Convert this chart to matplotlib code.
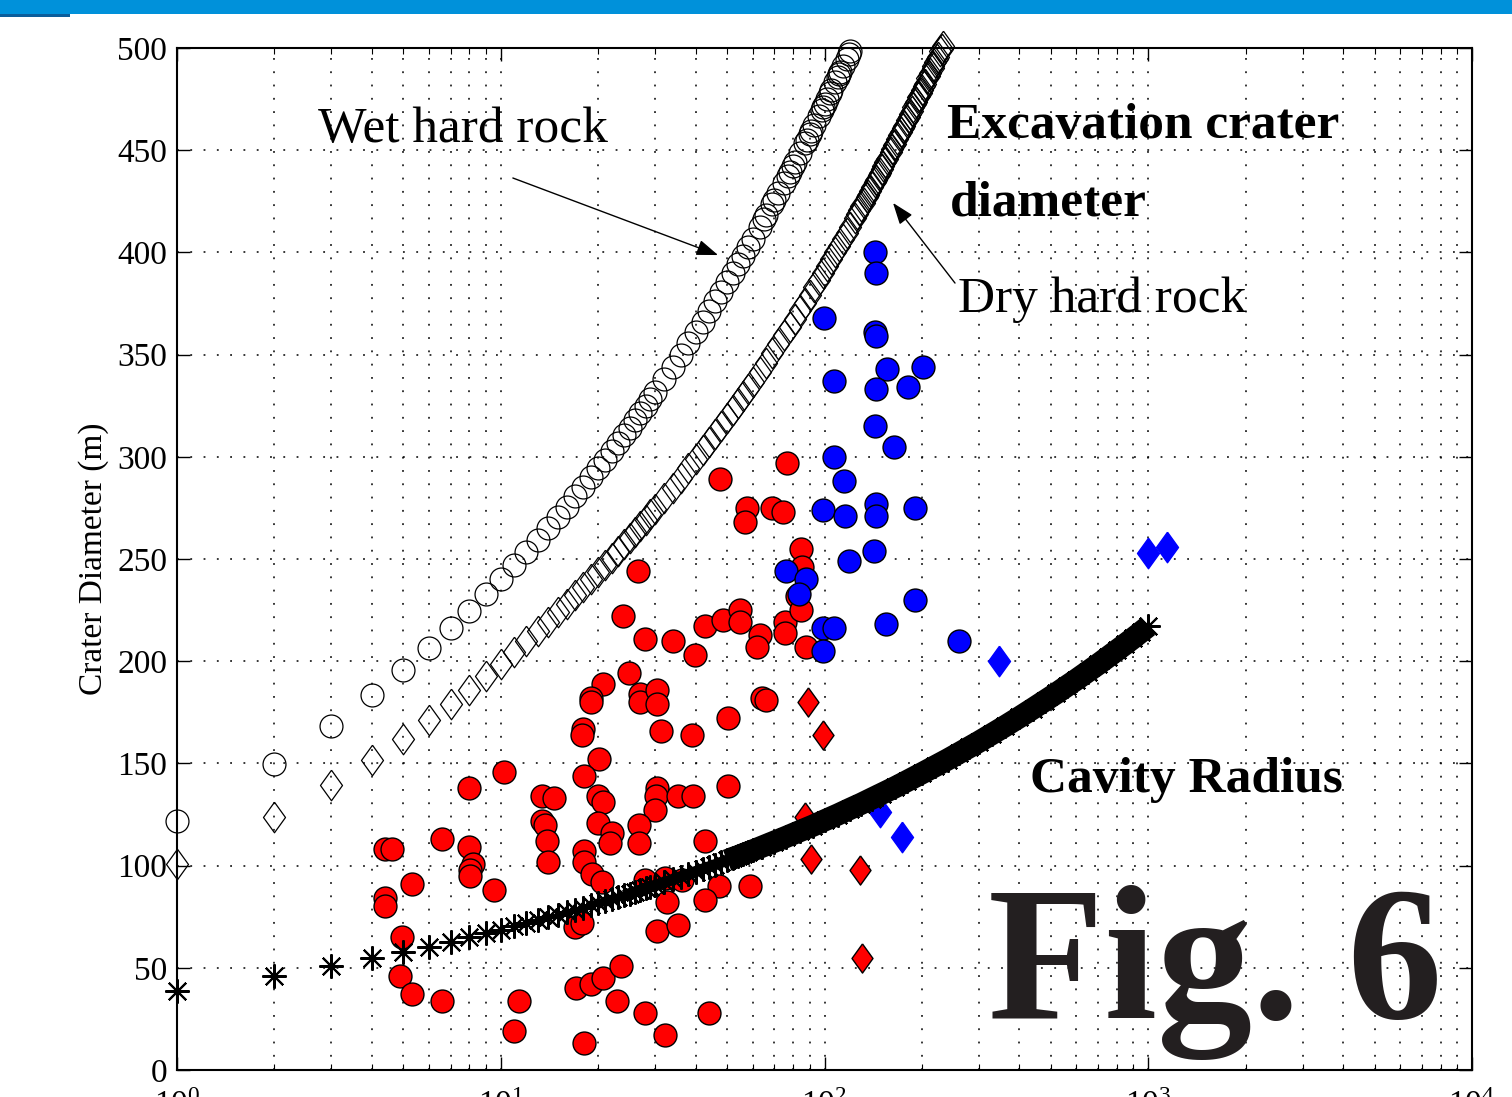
import matplotlib
matplotlib.use('Agg')
import matplotlib.pyplot as plt
from matplotlib.patches import Rectangle
from matplotlib.ticker import NullFormatter

# --- data ---
# wet hard rock excavation diameter (open circles)
wet_x = [1, 2, 3, 4, 5, 6, 7, 8, 9, 10, 11, 12, 13, 14, 15, 16, 17, 18, 19, 20,
         21, 22, 23, 24, 25, 26, 27, 28, 29, 30, 32, 34, 36, 38, 40, 42, 44, 46, 48, 50,
         52, 54, 56, 58, 60, 63, 65, 66, 69, 70, 72, 75, 77, 78, 80, 81, 84, 87, 88, 90,
         91, 93, 96, 98, 99, 100, 102, 104, 105, 108, 110, 111, 112, 114, 117, 119, 120]
wet_y = [122.0, 149.6, 168.5, 183.4, 195.8, 206.6, 216.2, 224.8, 232.7, 240.1,
         246.9, 253.3, 259.3, 265.0, 270.5, 275.6, 280.6, 285.3, 289.9, 294.3,
         298.6, 302.7, 306.7, 310.5, 314.3, 317.9, 321.5, 324.9, 328.3, 331.6,
         337.9, 344.0, 349.8, 355.5, 360.9, 366.1, 371.1, 376.0, 380.7, 385.4,
         389.8, 394.1, 398.4, 402.5, 406.6, 412.4, 416.3, 418.1, 423.6, 425.4,
         428.9, 434.1, 437.5, 439.2, 442.4, 444.0, 448.8, 453.5, 455.0, 458.0,
         459.5, 462.5, 466.7, 469.7, 471.0, 472.5, 475.2, 477.9, 479.3, 483.2,
         485.9, 487.2, 488.4, 491.0, 494.7, 497.3, 498.4]

# dry hard rock excavation diameter (open diamonds)
dry_x = [1, 2, 3, 4, 5, 6, 7, 8, 9, 10, 11, 12, 13, 14, 15, 16, 17, 18, 19, 20,
         21, 22, 23, 24, 25, 26, 27, 28, 29, 30, 32, 34, 36, 38, 40, 42, 44, 46, 48, 50,
         52, 54, 56, 58, 60, 63, 66, 69, 72, 75, 78, 81, 84, 87, 90, 93, 96, 99, 102, 105,
         108, 111, 114, 117, 120, 124, 126, 128, 130, 132, 135, 136, 138, 140, 143, 144,
         147, 148, 150, 152, 154, 156, 160, 162, 164, 165, 168, 170, 172, 175, 176, 180,
         182, 184, 186, 188, 190, 192, 195, 196, 198, 200, 203, 204, 208, 210, 212, 216,
         217, 220, 222, 224, 228, 230, 232]
dry_y = [101.0, 123.8, 139.5, 151.8, 162.1, 171.0, 179.0, 186.1, 192.7, 198.8,
         204.4, 209.7, 214.7, 219.4, 223.9, 228.2, 232.3, 236.2, 240.0, 243.7,
         247.2, 250.6, 253.9, 257.1, 260.2, 263.2, 266.1, 269.0, 271.8, 274.5,
         279.8, 284.8, 289.6, 294.3, 298.8, 303.1, 307.2, 311.3, 315.2, 319.0,
         322.7, 326.3, 329.8, 333.2, 336.6, 341.4, 346.1, 350.7, 355.1, 359.4,
         363.6, 367.6, 371.6, 375.4, 379.2, 382.9, 386.4, 389.9, 393.4, 396.8,
         400.0, 403.3, 406.5, 409.6, 412.6, 416.6, 418.6, 420.5, 422.5, 424.4,
         427.2, 428.1, 430.0, 431.8, 434.5, 435.3, 438.0, 438.9, 440.6, 442.3,
         444.1, 445.7, 449.1, 450.6, 452.3, 453.2, 455.5, 457.2, 458.7, 461.1,
         461.8, 464.9, 466.4, 467.9, 469.4, 470.9, 472.4, 473.7, 476.0, 476.7,
         478.1, 479.5, 481.6, 482.3, 485.1, 486.5, 487.8, 490.4, 491.2, 493.1,
         494.5, 495.7, 498.3, 499.7, 500.9]

# cavity radius (asterisks)
cav_x = [1, 2, 3, 4, 5, 6, 7, 8, 9, 10, 11, 12, 13, 14, 15, 16, 17, 18, 19, 20,
         21, 22, 23, 24, 25, 26, 27, 28, 29, 30, 32, 34, 36, 38, 40, 42, 44, 46, 48, 50,
         52, 54, 56, 58, 60, 64, 70, 76, 84, 92, 100, 110, 120, 130, 140, 150, 165, 180,
         200, 220, 240, 260, 280, 300, 330, 360, 400, 440, 480, 520, 560, 600, 650, 700,
         750, 800, 850, 900, 950, 1000]
cav_y = [38.6, 45.9, 50.8, 54.6, 57.7, 60.4, 62.8, 64.9, 66.9, 68.6,
         70.3, 71.8, 73.3, 74.7, 76.0, 77.2, 78.4, 79.5, 80.6, 81.6,
         82.6, 83.6, 84.5, 85.4, 86.3, 87.2, 88.0, 88.8, 89.6, 90.3,
         91.8, 93.2, 94.6, 95.8, 97.1, 98.3, 99.4, 100.5, 101.6, 102.6,
         103.7, 104.6, 105.6, 106.5, 107.4, 109.2, 111.7, 114.0, 116.9, 119.5,
         122.1, 125.0, 127.8, 130.3, 132.8, 135.1, 138.3, 141.4, 145.2, 148.7,
         151.9, 155.0, 157.9, 160.6, 164.5, 168.1, 172.6, 176.8, 180.7, 184.3,
         187.8, 191.0, 194.9, 198.5, 202.0, 205.3, 208.4, 211.4, 214.3, 217.1]

# measured craters, red circles
red_x = [4.39, 4.61, 4.39, 4.39, 5.32, 4.95, 4.88, 5.32, 6.58, 6.58,
         7.98, 7.98, 8.21, 8.04, 8.04, 9.53, 10.2, 11.4, 11.0, 13.4,
         14.6, 13.4, 13.7, 13.9, 14.0, 18.1, 17.1, 19.0, 20.7, 22.9,
         17.0, 17.8, 20.7, 19.0, 19.0, 18.0, 17.8, 20.1, 18.1, 20.0,
         20.7, 20.0, 22.1, 21.8, 18.1, 18.1, 19.1, 20.6, 23.9, 27.9,
         34.0, 39.8, 24.9, 26.9, 26.9, 30.4, 30.4, 31.3, 39.0, 42.7,
         48.6, 54.8, 54.8, 63.2, 61.9, 75.5, 75.5, 87.7, 64.1, 66.0,
         50.3, 30.4, 30.2, 30.0, 35.3, 39.3, 50.3, 26.7, 26.7, 42.7,
         27.9, 32.2, 36.3, 47.2, 58.9, 32.6, 42.7, 30.4, 35.3, 23.5,
         27.9, 44.0, 32.2, 26.5, 47.6, 76.6, 57.6, 56.8, 68.8, 74.4,
         84.6, 85.2, 82.2, 84.6]
red_y = [108, 108, 84, 80, 91, 65, 46, 37, 34, 113,
         138, 109, 101, 98, 95, 88, 146, 34, 19, 134,
         133, 122, 120, 112, 102, 13, 40, 42, 45, 34,
         70, 72, 189, 182, 180, 167, 164, 152, 144, 134,
         131, 121, 116, 111, 107, 102, 96, 92, 222, 211,
         210, 203, 194, 184, 180, 186, 179, 166, 164, 217,
         220, 225, 219, 213, 207, 219, 214, 207, 182, 181,
         172, 138, 134, 127, 134, 134, 139, 120, 111, 112,
         93, 94, 93, 90, 90, 82, 83, 68, 71, 51,
         28, 28, 17, 244, 289, 297, 275, 268, 275, 273,
         255, 246, 232, 225]

# red diamonds
red_d_x = [88.9, 98.9, 87.1, 90.9, 128.7, 130.6]
red_d_y = [180, 164, 124, 103, 98, 55]

# blue circles
blue_x = [143.2, 144.2, 99.7, 143.2, 144.2, 156.0, 201.5, 107.0, 144.2, 181.1,
          143.2, 163.9, 107.0, 114.9, 98.9, 115.7, 144.2, 144.2, 190.4, 142.2,
          119.0, 76.1, 87.7, 83.4, 190.4, 154.9, 98.9, 107.0, 98.9, 260.3]
blue_y = [400, 390, 368, 361, 359, 343, 344, 337, 333, 334,
          315, 305, 300, 288, 274, 271, 277, 271, 275, 254,
          249, 244, 240, 233, 230, 218, 216, 216, 205, 210]

# blue diamonds
blue_d_x = [148.4, 173.5, 345.9, 998, 1143]
blue_d_y = [126, 114, 200, 253, 256]

x_ticks = [1, 10, 100, 1000, 10000]
x_tick_labels = [r'$10^{0}$', r'$10^{1}$', r'$10^{2}$', r'$10^{3}$', r'$10^{4}$']
y_ticks = [0, 50, 100, 150, 200, 250, 300, 350, 400, 450, 500]


def plot_craters():
    plt.rcParams['font.family'] = ['Liberation Serif', 'DejaVu Serif']
    plt.rcParams['mathtext.fontset'] = 'custom'
    plt.rcParams['mathtext.rm'] = 'Liberation Serif'
    plt.rcParams['mathtext.it'] = 'Liberation Serif:italic'
    plt.rcParams['mathtext.bf'] = 'Liberation Serif:bold'

    diamond = [(0, 1), (0.72, 0), (0, -1), (-0.72, 0), (0, 1)]

    fig = plt.figure(figsize=(15.12, 10.97), dpi=100)
    ax = fig.add_axes([177 / 1512, 27 / 1097, 1295 / 1512, 1022 / 1097])

    # header bar
    fig.add_artist(Rectangle((0, 1 - 14 / 1097), 1, 14 / 1097, transform=fig.transFigure,
                             color='#0091da', lw=0))
    fig.add_artist(Rectangle((0, 1 - 17 / 1097), 70 / 1512, 3 / 1097, transform=fig.transFigure,
                             color='#0b5d9b', lw=0))

    ax.plot(wet_x, wet_y, ls='none', marker='o', ms=16.5, mfc='none', mec='k', mew=0.9,
            clip_on=False, zorder=3)
    ax.plot(dry_x, dry_y, ls='none', marker=diamond, ms=22, mfc='none', mec='k', mew=0.9,
            clip_on=False, zorder=3)
    ax.plot(red_x, red_y, ls='none', marker='o', ms=16.5, mfc='r', mec='k', mew=1.0, zorder=4)
    ax.plot(red_d_x, red_d_y, ls='none', marker=diamond, ms=21, mfc='r', mec='k', mew=1.0, zorder=4)
    ax.plot(blue_x, blue_y, ls='none', marker='o', ms=16.5, mfc='b', mec='k', mew=1.0, zorder=5)
    ax.plot(blue_d_x, blue_d_y, ls='none', marker=diamond, ms=22, mfc='b', mec='b', mew=1.0,
            zorder=5)

    # cavity radius: asterisks merge into a solid band at larger yields
    core_x = [x for x in cav_x if x >= 24]
    core_y = [y for x, y in zip(cav_x, cav_y) if x >= 24]
    ax.plot(core_x, core_y, color='k', lw=8, solid_capstyle='butt', zorder=6)
    band_x = [x for x in cav_x if x >= 50]
    band_y = [y for x, y in zip(cav_x, cav_y) if x >= 50]
    ax.plot(band_x, band_y, color='k', lw=16, solid_capstyle='butt', zorder=6)
    ax.plot(cav_x, cav_y, ls='none', marker=(8, 2, 0), ms=17.5, color='k', mew=1.5,
            clip_on=False, zorder=6)

    ax.set_xscale('log')
    ax.set_xlim(1, 10000)
    ax.set_ylim(0, 500)
    ax.set_xticks(x_ticks)
    ax.set_xticklabels(x_tick_labels)
    ax.xaxis.set_minor_formatter(NullFormatter())
    ax.set_yticks(y_ticks)

    ax.tick_params(which='major', direction='in', length=9.5, width=1.0, top=True, right=True,
                   labelsize=24)
    ax.tick_params(which='minor', direction='in', length=4.5, width=0.8, top=True, right=True)
    ax.tick_params(axis='x', which='major', pad=15)
    ax.tick_params(axis='y', which='major', pad=7)
    for s in ax.spines.values():
        s.set_linewidth(1.5)

    ax.set_axisbelow(True)
    ax.grid(which='major', color='k', lw=1.1, ls=(0, (1.2, 7.5)))
    ax.grid(which='minor', axis='x', color='k', lw=1.1, ls=(0, (1.2, 7.5)))

    ax.set_ylabel('Crater Diameter (m)', fontsize=24)
    ax.yaxis.set_label_coords(-0.0525, 0.5)

    # labels and arrows
    ax.annotate('', xy=(46.9, 398.7), xytext=(10.9, 436.4),
                arrowprops=dict(arrowstyle='-|>,head_length=0.6,head_width=0.22', color='k',
                                lw=1.0, mutation_scale=22, shrinkA=0, shrinkB=0))
    ax.annotate('', xy=(162.8, 424.2), xytext=(253.0, 385.0),
                arrowprops=dict(arrowstyle='-|>,head_length=0.6,head_width=0.22', color='k',
                                lw=1.0, mutation_scale=22, shrinkA=0, shrinkB=0))

    fig.text(318 / 1512, 1 - 142 / 1097, 'Wet hard rock', fontsize=37, va='baseline')
    fig.text(947 / 1512, 1 - 138 / 1097, 'Excavation crater', fontsize=37, fontweight='bold',
             va='baseline')
    fig.text(950 / 1512, 1 - 215 / 1097, 'diameter', fontsize=37, fontweight='bold',
             va='baseline')
    fig.text(958 / 1512, 1 - 312 / 1097, 'Dry hard rock', fontsize=37, va='baseline')
    fig.text(1030 / 1512, 1 - 792 / 1097, 'Cavity Radius', fontsize=37, fontweight='bold',
             va='baseline')
    fig.text(988 / 1512, 1 - 1018 / 1097, 'Fig. 6', fontsize=137, fontweight='bold',
             color='#231f20', va='baseline')

    fig.savefig('out.png', dpi=100)


if __name__ == "__main__":
    plot_craters()
